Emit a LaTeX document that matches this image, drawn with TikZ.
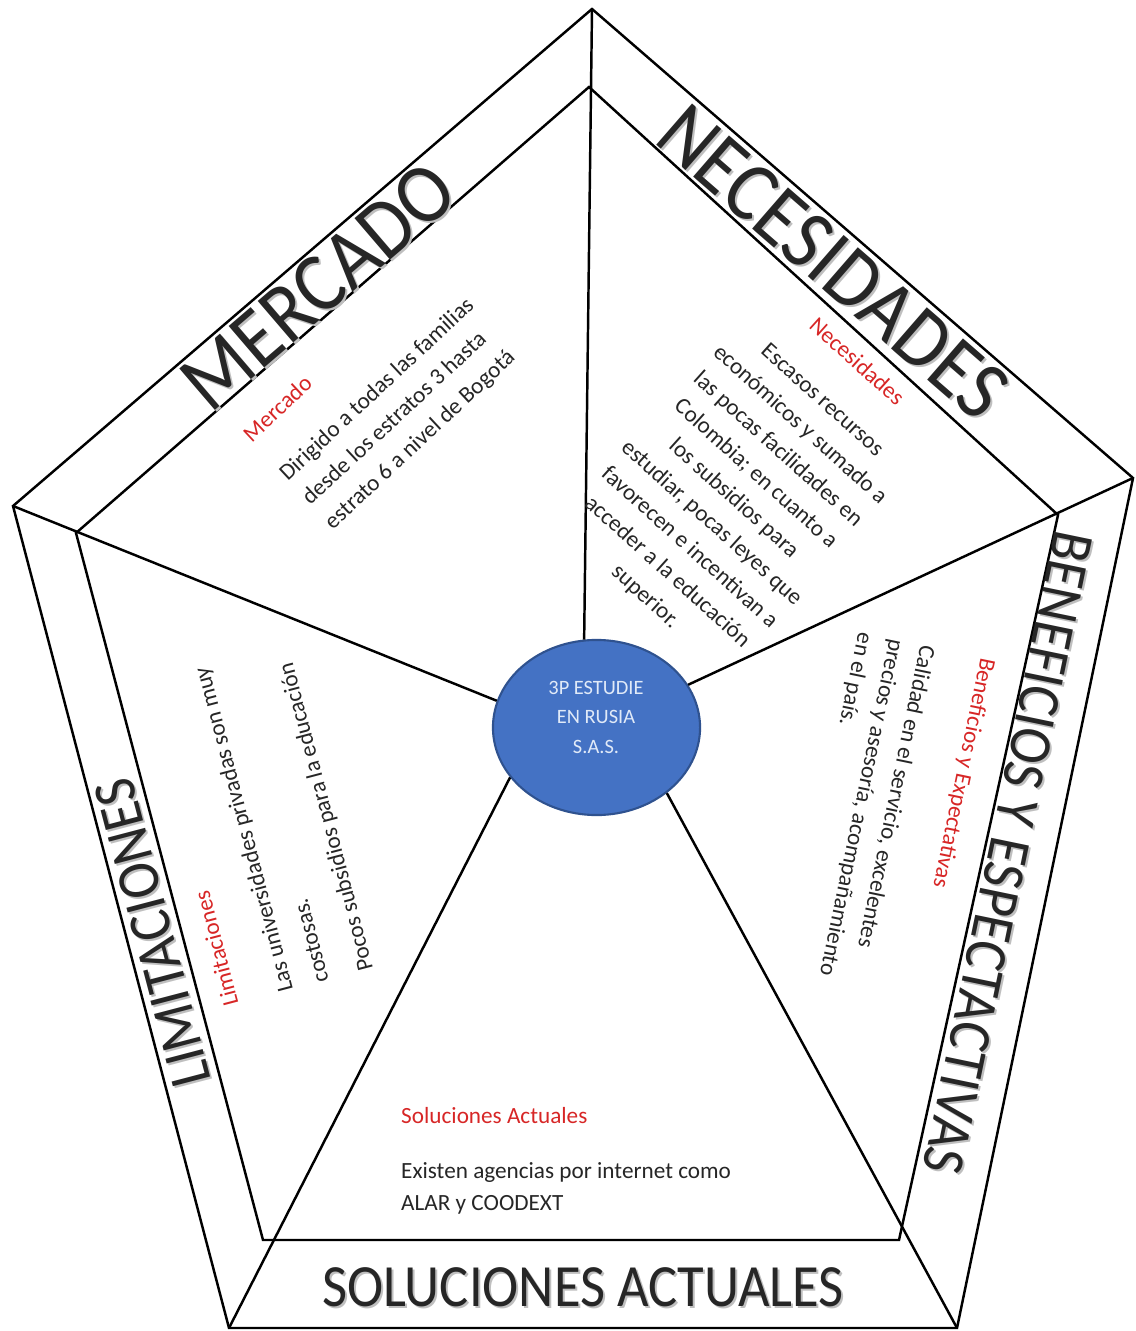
\documentclass[tikz,border=0pt]{standalone}
\usepackage{fontspec}
\setmainfont{Carlito}
\usepackage{graphicx}
\usetikzlibrary{shapes.geometric}
\definecolor{rojo}{RGB}{215,38,38}
\definecolor{azul}{RGB}{68,114,196}
\definecolor{azulborde}{RGB}{47,82,143}
\definecolor{nombreclaro}{RGB}{225,234,248}
\newcommand{\alto}[1]{\scalebox{1}[1.1]{#1}}
\tikzstyle{rotulo} = [inner sep=0pt, text=black!85, font=\fontsize{22}{22}\selectfont]
\tikzstyle{rotulomenor} = [inner sep=0pt, text=black!85, font=\fontsize{15.5}{15.5}\selectfont]
\tikzstyle{sombra} = [text=black!25]
\tikzstyle{texto} = [inner sep=0pt, text=black!85, anchor=base west, font=\fontsize{6.6}{9}\selectfont]
\tikzstyle{empresa} = [ellipse, fill=azul, draw=azulborde, line width=0.6pt, minimum width=2.07cm, minimum height=1.75cm, inner sep=0pt]
\tikzstyle{nombre} = [inner sep=0pt, text=nombreclaro, font=\fontsize{5.8}{8.5}\selectfont]

\begin{document}
\begin{tikzpicture}[x=0.01cm, y=-0.01cm, line width=0.7pt]
\useasboundingbox (0,0) rectangle (1135,1331);

% outer pentagon
\coordinate (o1) at (592,9);
\coordinate (o2) at (1133,478);
\coordinate (o3) at (957,1328);
\coordinate (o4) at (229,1328);
\coordinate (o5) at (13,506);
% inner pentagon
\coordinate (i1) at (589,87);
\coordinate (i2) at (1058,515);
\coordinate (i3) at (899,1240);
\coordinate (i4) at (263,1240);
\coordinate (i5) at (76,533);

\draw (o1) -- (o2) -- (o3) -- (o4) -- (o5) -- cycle;
\draw (i1) -- (i2) -- (i3) -- (i4) -- (i5) -- cycle;

\node (empresa) [empresa] at (596.5,727.5) {};
\draw (o1) -- (empresa.98);
\draw (o2) -- (empresa.25);
\draw (o3) -- (empresa.317);
\draw (o4) -- (empresa.210);
\draw (o5) -- (empresa.165);
\node (empresanombre) [nombre] at (596,718) {\begin{tabular}{@{}c@{}}3P ESTUDIE\\EN RUSIA\\S.A.S.\end{tabular}};

% big titles
\node (mercadosombra) [rotulo, sombra, rotate=40.6] at (320,288) {\alto{MERCADO}};
\node (mercado) [rotulo, rotate=40.6] at ([shift={(-2,-2)}]mercadosombra) {\alto{MERCADO}};
\node (necesidadessombra) [rotulo, sombra, rotate=-41] at (835,264) {\alto{NECESIDADES}};
\node (necesidades) [rotulo, rotate=-41] at ([shift={(-2,-2)}]necesidadessombra) {\alto{NECESIDADES}};
\node (beneficiossombra) [rotulomenor, sombra, rotate=-101.7] at (1010,855) {\alto{BENEFICIOS Y ESPECTACTIVAS}};
\node (beneficios) [rotulomenor, rotate=-101.7] at ([shift={(-2,-2)}]beneficiossombra) {\alto{BENEFICIOS Y ESPECTACTIVAS}};
\node (limitacionessombra) [rotulomenor, sombra, rotate=104.7] at (155,935) {\alto{LIMITACIONES}};
\node (limitaciones) [rotulomenor, rotate=104.7] at ([shift={(-2,-2)}]limitacionessombra) {\alto{LIMITACIONES}};
\node (solucionessombra) [rotulomenor, sombra] at (585,1289) {\alto{SOLUCIONES ACTUALES}};
\node (soluciones) [rotulomenor] at ([shift={(-2,-2)}]solucionessombra) {\alto{SOLUCIONES ACTUALES}};

% texts of each part
\node (mercadotexto) [texto, rotate=43] at (251,444) {\begin{tabular}[t]{@{}l@{}}
\textcolor{rojo}{Mercado}\\[6pt]
Dirigido a todas las familias\\[0.4pt]
desde los estratos 3 hasta\\[0.4pt]
estrato 6 a nivel de Bogotá
\end{tabular}};

\node (necesidadestexto) [texto, anchor=base, rotate=-42] at (852,367) {\begin{tabular}[t]{@{}c@{}}
\textcolor{rojo}{Necesidades}\\[5.5pt]
Escasos recursos\\[0.4pt]
económicos y sumado a\\[0.4pt]
las pocas facilidades en\\[0.4pt]
Colombia; en cuanto a\\[0.4pt]
los subsidios para\\[0.4pt]
estudiar, pocas leyes que\\[0.4pt]
favorecen e incentivan a\\[0.4pt]
acceder a la educación\\[0.4pt]
superior.
\end{tabular}};

\node (beneficiostexto) [texto, rotate=-101.7] at (981,656) {\begin{tabular}[t]{@{}l@{}}
\textcolor{rojo}{Beneficios y Expectativas}\\[8.5pt]
Calidad en el servicio, excelentes\\
precios y asesoría, acompañamiento\\
en el país.
\end{tabular}};

\node (limitacionestexto) [texto, rotate=104.7] at (239,1005) {\begin{tabular}[t]{@{}l@{}}
\textcolor{rojo}{Limitaciones}\\[7pt]
Las universidades privadas son muy\\[1.5pt]
costosas.\\[4pt]
Pocos subsidios para la educación
\end{tabular}};

\node (solucionestexto) [texto] at (400,1123) {\begin{tabular}[t]{@{}l@{}}
\textcolor{rojo}{Soluciones Actuales}\\[6.8pt]
Existen agencias por internet como\\
ALAR y COODEXT
\end{tabular}};

\end{tikzpicture}
\end{document}
